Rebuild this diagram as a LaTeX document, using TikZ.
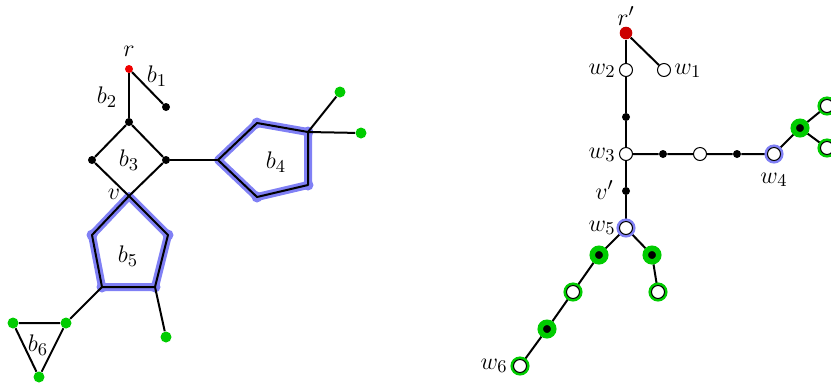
\documentclass[tikz,border=0pt]{standalone}
\usetikzlibrary{backgrounds}
\definecolor{gr}{RGB}{0,204,0}
\definecolor{bl}{RGB}{128,128,245}
\definecolor{rl}{RGB}{240,0,0}
\definecolor{rr}{RGB}{204,0,0}
\begin{document}
\begin{tikzpicture}[x=0.5pt,y=-0.5pt, font=\fontsize{12.5}{15}\selectfont,
 edge/.style={line width=1pt},
 bdot/.style={circle,fill=black,inner sep=0,minimum size=4pt},
 gdot/.style={circle,fill=gr,inner sep=0,minimum size=5.5pt},
 rdot/.style={circle,fill=rl,inner sep=0,minimum size=4pt},
 bvert/.style={circle,fill=bl,inner sep=0,minimum size=5.5pt},
 hl/.style={draw=bl,line width=4pt,line join=round},
 wnode/.style={circle,draw=black,fill=white,line width=0.5pt,inner sep=0,minimum size=6.5pt},
 wgreen/.style={wnode,preaction={draw=gr,line width=3pt}},
 wblue/.style={wnode,preaction={draw=bl,line width=3pt}},
 bgreen/.style={circle,fill=black,draw=gr,line width=2.75pt,inner sep=0,minimum size=6.75pt},
 rbig/.style={circle,fill=rr,inner sep=0,minimum size=6.3pt},
 lab/.style={inner sep=0}
]
\useasboundingbox (0,0) rectangle (831,387);

% ---------- left graph ----------
\node[rdot] (r) at (129,69) {};
\node[bdot] (b1e) at (166,107) {};
\node[bdot] (dt) at (129,122) {};
\node[bdot] (dl) at (92,160) {};
\node[bdot] (dr) at (166,160) {};
\coordinate (v) at (129,196);
% b4 pentagon
\coordinate (p4l) at (218,160);
\coordinate (p4tl) at (257,123);
\coordinate (p4tr) at (308,132);
\coordinate (p4br) at (308,185);
\coordinate (p4bl) at (257,197);
% b5 pentagon
\coordinate (p5ur) at (168,235);
\coordinate (p5lr) at (155,287);
\coordinate (p5ll) at (102,287);
\coordinate (p5ul) at (92,235);

\draw[hl] (p4l) -- (p4tl) -- (p4tr) -- (p4br) -- (p4bl) -- cycle;
\draw[hl] (v) -- (p5ur) -- (p5lr) -- (p5ll) -- (p5ul) -- cycle;
\foreach \p in {p4tl,p4tr,p4br,p4bl,p5ur,p5lr,p5ll,p5ul}
  \node[bvert] at (\p) {};

\node[gdot] (g1) at (340,92) {};
\node[gdot] (g2) at (361,133) {};
\node[gdot] (g3) at (166,337) {};
\node[gdot] (t1) at (66,323) {};
\node[gdot] (t2) at (13,323) {};
\node[gdot] (t3) at (39,377) {};

\draw[edge] (r) -- (b1e);
\draw[edge] (r) -- (dt);
\draw[edge] (dt) -- (dl) -- (v) -- (dr) -- (dt);
\draw[edge] (dr) -- (p4l);
\draw[edge,line join=round] (p4l) -- (p4tl) -- (p4tr) -- (p4br) -- (p4bl) -- cycle;
\draw[edge,line join=round] (v) -- (p5ur) -- (p5lr) -- (p5ll) -- (p5ul) -- cycle;
\draw[edge] (p4tr) -- (g1);
\draw[edge] (p4tr) -- (g2);
\draw[edge] (p5lr) -- (g3);
\draw[edge] (p5ll) -- (t1);
\draw[edge] (t1) -- (t2) -- (t3) -- (t1);

\node[lab] (lr) at (129,51) {$r$};
\node[lab] (lb1) at (157,76) {$b_1$};
\node[lab] (lb2) at (107,97) {$b_2$};
\node[lab] (lb3) at (129,160) {$b_3$};
\node[lab] (lb4) at (276,162) {$b_4$};
\node[lab] (lb5) at (128,256) {$b_5$};
\node[lab] (lb6) at (38,345) {$b_6$};
\node[lab] (lv) at (114,194) {$v$};

% ---------- right graph ----------
\node[rbig] (rp) at (626,33) {};
\node[wnode] (w1) at (664,70) {};
\node[wnode] (w2) at (626,70) {};
\node[bdot] (d1) at (626,117) {};
\node[wnode] (w3) at (626,154) {};
\node[bdot] (d2) at (663,154) {};
\node[wnode] (x1) at (700,154) {};
\node[bdot] (d3) at (737,154) {};
\node[wblue] (w4) at (774,154) {};
\node[bgreen] (k1) at (800,128) {};
\node[wgreen] (kx1) at (827,106) {};
\node[wgreen] (kx2) at (827,148) {};
\node[bdot] (vp) at (626,191) {};
\node[wblue] (w5) at (626,228) {};
\node[bgreen] (ga) at (599,255) {};
\node[wgreen] (gb) at (573,292) {};
\node[bgreen] (gc) at (547,329) {};
\node[wgreen] (w6) at (520,366) {};
\node[bgreen] (gd) at (652,255) {};
\node[wgreen] (ge) at (658,292) {};

\begin{pgfonlayer}{background}
\draw[edge] (rp) -- (w1);
\draw[edge] (rp) -- (w2) -- (d1) -- (w3) -- (vp) -- (w5);
\draw[edge] (w3) -- (d2) -- (x1) -- (d3) -- (w4) -- (k1);
\draw[edge] (k1) -- (kx1);
\draw[edge] (k1) -- (kx2);
\draw[edge] (w5) -- (ga) -- (gb) -- (gc) -- (w6);
\draw[edge] (w5) -- (gd) -- (ge);
\end{pgfonlayer}

\node[lab] (lrp) at (626,16) {$r'$};
\node[lab,anchor=west] (lw1) at (674,71) {$w_1$};
\node[lab,anchor=east] (lw2) at (616,71) {$w_2$};
\node[lab,anchor=east] (lw3) at (616,155) {$w_3$};
\node[lab] (lw4) at (774,180) {$w_4$};
\node[lab,anchor=east] (lvp) at (614,190) {$v'$};
\node[lab,anchor=east] (lw5) at (616,228) {$w_5$};
\node[lab,anchor=east] (lw6) at (508,366) {$w_6$};
\end{tikzpicture}
\end{document}
